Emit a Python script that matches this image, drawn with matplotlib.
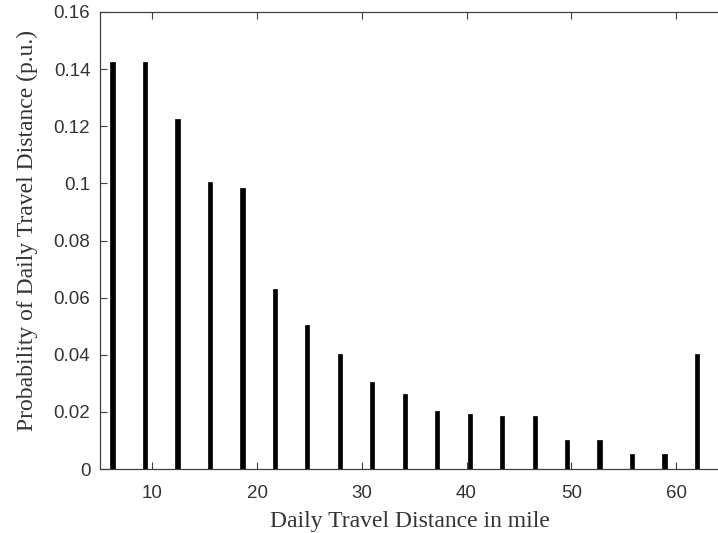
import matplotlib
matplotlib.use("Agg")
import matplotlib.pyplot as plt
import numpy as np

distance = [6.2, 9.3, 12.4, 15.5, 18.6, 21.7, 24.8, 27.9, 31.0, 34.1,
            37.2, 40.3, 43.4, 46.5, 49.6, 52.7, 55.8, 58.9, 62.0]
probability = [0.1424, 0.1424, 0.1224, 0.1004, 0.0985, 0.063, 0.0503, 0.0403,
               0.0303, 0.0264, 0.0203, 0.0193, 0.0184, 0.0184, 0.0102, 0.0102,
               0.0053, 0.0053, 0.0403]
xticks = [10, 20, 30, 40, 50, 60]
yticks = [0, 0.02, 0.04, 0.06, 0.08, 0.1, 0.12, 0.14, 0.16]
yticklabels = ["0", "0.02", "0.04", "0.06", "0.08", "0.1", "0.12", "0.14", "0.16"]

fig = plt.figure(figsize=(7.18, 5.33), dpi=100)
ax = fig.add_axes([100/718, 64/533, 620/718, 457/533])
ax.bar(distance, probability, width=0.4, color="black", edgecolor="black", linewidth=0.5)
ax.set_xlim(5, 64.2)
ax.set_ylim(0, 0.16)
ax.set_xticks(xticks)
ax.set_yticks(yticks)
ax.set_yticklabels(yticklabels)
axcol = "#404040"
for s in ax.spines.values():
    s.set_color(axcol)
    s.set_linewidth(0.9)
ax.tick_params(direction="in", top=True, right=False, length=5, width=0.8,
               color=axcol, labelcolor="#333333", labelsize=13.5)
ax.tick_params(axis="y", pad=7)
ax.tick_params(axis="x", pad=11.5)
for lab in ax.get_xticklabels() + ax.get_yticklabels():
    lab.set_fontfamily("Liberation Sans")
ax.set_xlabel("Daily Travel Distance in mile", family="Liberation Serif",
              fontsize=17, color="#333333", labelpad=6.5)
ax.set_ylabel("Probability of Daily Travel Distance (p.u.)", family="Liberation Serif",
              fontsize=17, color="#333333")
ax.yaxis.set_label_coords(-0.100, 0.522)
fig.savefig("out.png", dpi=100)
